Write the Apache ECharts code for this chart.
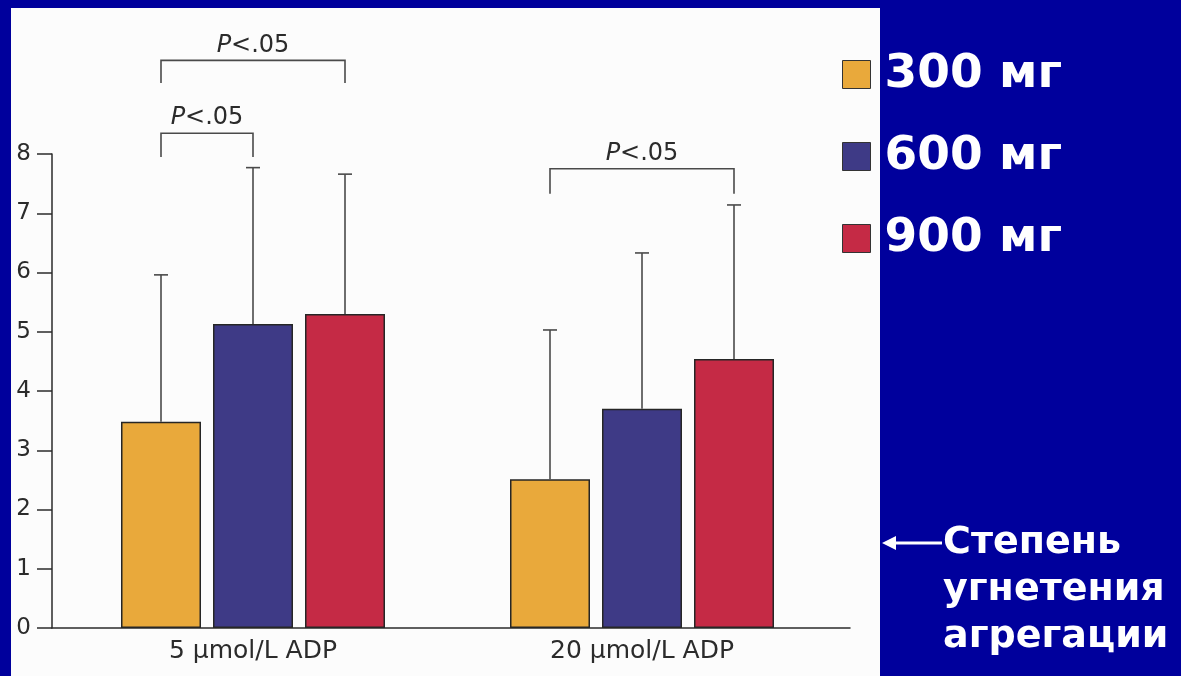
<!DOCTYPE html>
<html>
<head>
<meta charset="utf-8">
<title>Степень угнетения агрегации</title>
<script src="https://cdn.jsdelivr.net/npm/echarts@6/dist/echarts.min.js"></script>
<style>
  html, body { margin: 0; padding: 0; background: #00009c; }
  #chart { width: 1181px; height: 676px; }
</style>
</head>
<body>
<div id="chart"></div>
<script>
// Platelet aggregation inhibition by loading dose, for two ADP concentrations
const categories = ['5 μmol/L ADP', '20 μmol/L ADP'];
const doses = ['300 мг', '600 мг', '900 мг'];

// bar means per dose (one value per ADP concentration)
const mean300 = [3.48, 2.51];
const mean600 = [5.13, 3.70];
const mean900 = [5.30, 4.54];

// top of the error bar (mean + SD)
const upper300 = [5.96, 5.03];
const upper600 = [7.77, 6.33];
const upper900 = [7.66, 7.14];

const yTicks = [0, 1, 2, 3, 4, 5, 6, 7, 8];

// significance brackets: category, first and last dose index, leg bottom, bracket top
const brackets = [
  { cat: 0, from: 0, to: 1, low: 7.95, high: 8.35, text: 'P<.05' },
  { cat: 0, from: 0, to: 2, low: 9.20, high: 9.58, text: 'P<.05' },
  { cat: 1, from: 0, to: 2, low: 7.33, high: 7.75, text: 'P<.05' }
];

const means = [mean300, mean600, mean900];
const uppers = [upper300, upper600, upper900];
const colors = ['#e9a93b', '#3e3a86', '#c52a45'];

const BAR_W = 80;
const BAR_GAP = 12;
const FONT = '"DejaVu Sans", "Liberation Sans", sans-serif';
const INK = '#2b2b2b';

function barOffset(k) {
  return (k - 1) * (BAR_W + BAR_GAP);
}

const errorData = [];
for (let k = 0; k < 3; k++) {
  for (let c = 0; c < categories.length; c++) {
    errorData.push([c, means[k][c], uppers[k][c], k]);
  }
}

const bracketData = brackets.map(b => [b.cat, b.from, b.to, b.low, b.high]);

const chart = echarts.init(document.getElementById('chart'), null, { renderer: 'canvas' });

const barSeries = doses.map((name, k) => ({
  type: 'bar',
  name: name,
  xAxisIndex: 1,
  yAxisIndex: 1,
  barWidth: BAR_W,
  barGap: (BAR_GAP / BAR_W * 100) + '%',
  data: means[k],
  itemStyle: { color: colors[k], borderColor: '#262626', borderWidth: 1.5 },
  emphasis: { disabled: true },
  z: 3
}));

chart.setOption({
  backgroundColor: '#00009c',
  animation: false,
  graphic: [
    {
      type: 'rect', z: -10, silent: true,
      shape: { x: 11, y: 8, width: 869, height: 676 },
      style: { fill: '#fcfcfc' }
    },
    {
      type: 'group', silent: true,
      children: [
        { type: 'line', shape: { x1: 892, y1: 543, x2: 942, y2: 543 },
          style: { stroke: '#ffffff', lineWidth: 3 } },
        { type: 'polygon', shape: { points: [[882, 543], [896, 536], [896, 550]] },
          style: { fill: '#ffffff' } },
        { type: 'text', x: 943, y: 543,
          style: {
            text: 'Степень\nугнетения\nагрегации',
            fill: '#ffffff', font: 'bold 38px ' + FONT,
            lineHeight: 47, textAlign: 'left', textVerticalAlign: 'top',
            y: -23
          } }
      ]
    }
  ],
  legend: {
    data: doses,
    orient: 'vertical',
    left: 837,
    top: 46,
    itemWidth: 28,
    itemHeight: 28,
    itemGap: 35,
    icon: 'rect',
    selectedMode: false,
    itemStyle: { borderColor: '#333333', borderWidth: 1 },
    textStyle: {
      color: '#ffffff', fontFamily: FONT, fontWeight: 'bold',
      fontSize: 47, padding: [0, 0, 0, 9]
    }
  },
  grid: [
    // frame: y axis and baseline
    { left: 52, right: 331, top: 154, bottom: 48 },
    // bar area
    { left: 58.5, right: 344.5, top: 154, bottom: 48 }
  ],
  xAxis: [
    {
      type: 'category', gridIndex: 0, data: categories,
      axisLine: { show: true, lineStyle: { color: INK, width: 1.5 } },
      axisTick: { show: false }, axisLabel: { show: false }, splitLine: { show: false }
    },
    {
      type: 'category', gridIndex: 1, data: categories,
      axisLine: { show: false }, axisTick: { show: false },
      axisLabel: { color: INK, fontFamily: FONT, fontSize: 25, margin: 11 }
    }
  ],
  yAxis: [
    {
      type: 'value', gridIndex: 0, min: 0, max: 8, interval: 1,
      axisLine: { show: true, lineStyle: { color: INK, width: 1.5 } },
      axisTick: { show: true, length: 15, lineStyle: { color: INK, width: 1.5 } },
      axisLabel: {
        color: INK, fontFamily: FONT, fontSize: 23, margin: 21,
        formatter: v => (yTicks.indexOf(v) >= 0 ? String(v) : '')
      },
      splitLine: { show: false }
    },
    {
      type: 'value', gridIndex: 1, min: 0, max: 8, interval: 1, show: false
    }
  ],
  series: barSeries.concat([
    {
      type: 'custom',
      name: 'errors',
      xAxisIndex: 1, yAxisIndex: 1,
      data: errorData,
      encode: { x: 0, y: [1, 2] },
      silent: true,
      z: 4,
      renderItem: function (params, api) {
        const c = api.value(0);
        const k = api.value(3);
        const base = api.coord([c, api.value(1)]);
        const top = api.coord([c, api.value(2)]);
        const x = base[0] + barOffset(k);
        const style = { stroke: '#4a4a4a', lineWidth: 1.6 };
        return {
          type: 'group',
          children: [
            { type: 'line', shape: { x1: x, y1: base[1], x2: x, y2: top[1] }, style: style },
            { type: 'line', shape: { x1: x - 7, y1: top[1], x2: x + 7, y2: top[1] }, style: style }
          ]
        };
      }
    },
    {
      type: 'custom',
      name: 'brackets',
      xAxisIndex: 1, yAxisIndex: 1,
      data: bracketData,
      encode: { x: 0, y: [3, 4] },
      silent: true,
      clip: false,
      z: 4,
      renderItem: function (params, api) {
        const c = api.value(0);
        const lo = api.coord([c, api.value(3)]);
        const hi = api.coord([c, api.value(4)]);
        const x1 = lo[0] + barOffset(api.value(1));
        const x2 = lo[0] + barOffset(api.value(2));
        const style = { stroke: '#4a4a4a', lineWidth: 1.6 };
        const label = brackets[params.dataIndex].text;
        return {
          type: 'group',
          children: [
            { type: 'polyline',
              shape: { points: [[x1, lo[1]], [x1, hi[1]], [x2, hi[1]], [x2, lo[1]]] },
              style: { stroke: style.stroke, lineWidth: style.lineWidth, fill: null } },
            { type: 'text',
              x: (x1 + x2) / 2, y: hi[1] - 3,
              style: {
                text: '{i|' + label.charAt(0) + '}' + label.slice(1),
                fill: INK, font: '24px ' + FONT,
                textAlign: 'center', textVerticalAlign: 'bottom',
                rich: { i: { fontStyle: 'italic', fontSize: 24, fontFamily: FONT, fill: INK } }
              } }
          ]
        };
      }
    }
  ])
});
</script>
</body>
</html>
